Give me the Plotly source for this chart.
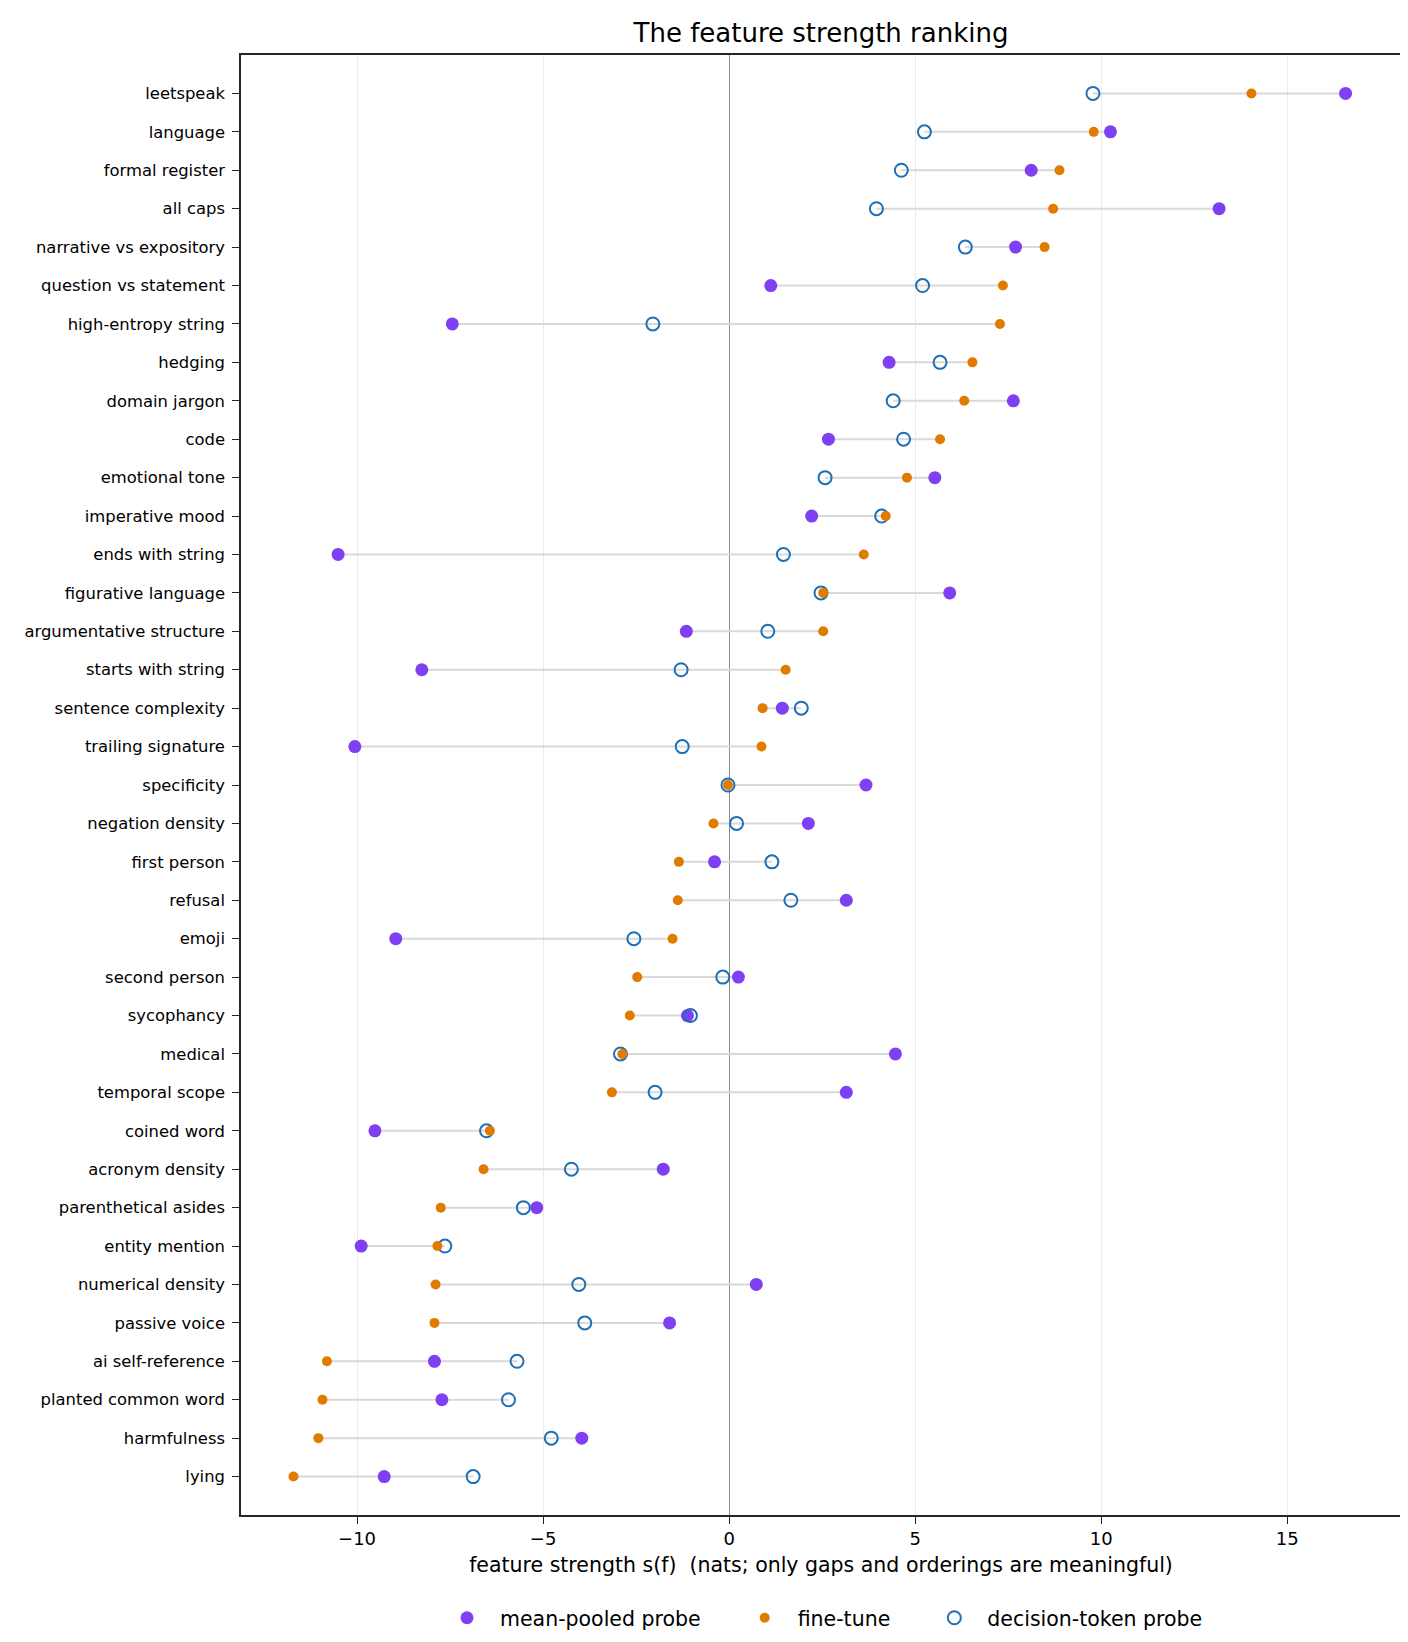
import plotly.graph_objects as go

# features, ordered top to bottom (sorted by fine-tune strength)
features = [
    "leetspeak", "language", "formal register", "all caps", "narrative vs expository",
    "question vs statement", "high-entropy string", "hedging", "domain jargon", "code",
    "emotional tone", "imperative mood", "ends with string", "figurative language",
    "argumentative structure", "starts with string", "sentence complexity",
    "trailing signature", "specificity", "negation density", "first person", "refusal",
    "emoji", "second person", "sycophancy", "medical", "temporal scope", "coined word",
    "acronym density", "parenthetical asides", "entity mention", "numerical density",
    "passive voice", "ai self-reference", "planted common word", "harmfulness", "lying",
]
mean_pooled = [
    16.57, 10.25, 8.12, 13.17, 7.70, 1.12, -7.44, 4.30, 7.64, 2.67,
    5.53, 2.22, -10.51, 5.93, -1.15, -8.26, 1.43, -10.06, 3.68, 2.13,
    -0.39, 3.15, -8.96, 0.25, -1.12, 4.47, 3.15, -9.52, -1.77, -5.17,
    -9.89, 0.73, -1.60, -7.92, -7.72, -3.96, -9.27,
]
fine_tune = [
    14.04, 9.80, 8.88, 8.71, 8.48, 7.36, 7.28, 6.54, 6.32, 5.67,
    4.78, 4.21, 3.62, 2.53, 2.53, 1.52, 0.90, 0.87, -0.03, -0.42,
    -1.35, -1.38, -1.52, -2.47, -2.67, -2.87, -3.15, -6.43, -6.60, -7.75,
    -7.84, -7.89, -7.92, -10.81, -10.93, -11.04, -11.71,
]
decision_token = [
    9.78, 5.25, 4.63, 3.96, 6.35, 5.20, -2.05, 5.67, 4.41, 4.69,
    2.58, 4.10, 1.46, 2.47, 1.04, -1.29, 1.94, -1.26, -0.03, 0.20,
    1.15, 1.66, -2.56, -0.17, -1.04, -2.92, -1.99, -6.52, -4.24, -5.53,
    -7.64, -4.04, -3.88, -5.70, -5.93, -4.78, -6.88,
]

PURPLE = "#7f3ff2"
ORANGE = "#e07b00"
BLUE = "#1f6fb4"
FONT = "DejaVu Sans"
PAD = "\u00a0" * 4  # extra room between legend entries

# grey range line per feature (min to max of the three estimates)
seg_x, seg_y = [], []
for f, a, b, c in zip(features, mean_pooled, fine_tune, decision_token):
    seg_x += [min(a, b, c), max(a, b, c), None]
    seg_y += [f, f, None]

fig = go.Figure()
fig.add_trace(go.Scatter(
    x=seg_x, y=seg_y, mode="lines", line=dict(color="#d9d9d9", width=2),
    hoverinfo="skip", showlegend=False,
))
fig.add_trace(go.Scatter(
    x=mean_pooled, y=features, mode="markers", name="mean-pooled probe" + PAD,
    marker=dict(color=PURPLE, size=13), legendrank=1,
))
fig.add_trace(go.Scatter(
    x=decision_token, y=features, mode="markers", name="decision-token probe",
    marker=dict(symbol="circle-open", color=BLUE, size=13, line=dict(width=2)), legendrank=3,
))
fig.add_trace(go.Scatter(
    x=fine_tune, y=features, mode="markers", name="fine-tune" + PAD,
    marker=dict(color=ORANGE, size=10), legendrank=2,
))

fig.update_layout(
    width=1408, height=1642,
    margin=dict(l=233, r=15, t=47, b=135),
    paper_bgcolor="white", plot_bgcolor="white",
    font=dict(family=FONT, color="black"),
    title=dict(text="The feature strength ranking", x=0.5, xref="paper", xanchor="center",
               y=1 - 25 / 1642, yanchor="middle", font=dict(size=26)),
    legend=dict(orientation="h", x=0.5, xanchor="center", y=-0.0705, yanchor="middle",
                font=dict(size=20.5), itemwidth=56),
)
fig.update_xaxes(
    range=[-13.12, 18.06], tickvals=[-10, -5, 0, 5, 10, 15],
    ticktext=["\u221210", "\u22125", "0", "5", "10", "15"],
    tickfont=dict(size=18), ticks="outside", ticklen=7, tickcolor="#262626",
    ticklabelstandoff=0,
    showgrid=True, gridcolor="#ebebeb", gridwidth=1,
    zeroline=True, zerolinecolor="#8c8c8c", zerolinewidth=1.3,
    showline=True, linecolor="#262626", linewidth=1.5, mirror=True,
    title=dict(text="feature strength s(f)\u00a0\u00a0(nats; only gaps and orderings are meaningful)",
               font=dict(size=20.5), standoff=9),
)
fig.update_yaxes(
    type="category", categoryorder="array", categoryarray=features,
    range=[len(features), -1], tickfont=dict(size=16.4),
    ticks="outside", ticklen=7, tickcolor="#262626", ticklabelstandoff=4,
    showgrid=False, showline=True, linecolor="#262626", linewidth=1.5, mirror=True,
)

fig.write_html("out.html")
